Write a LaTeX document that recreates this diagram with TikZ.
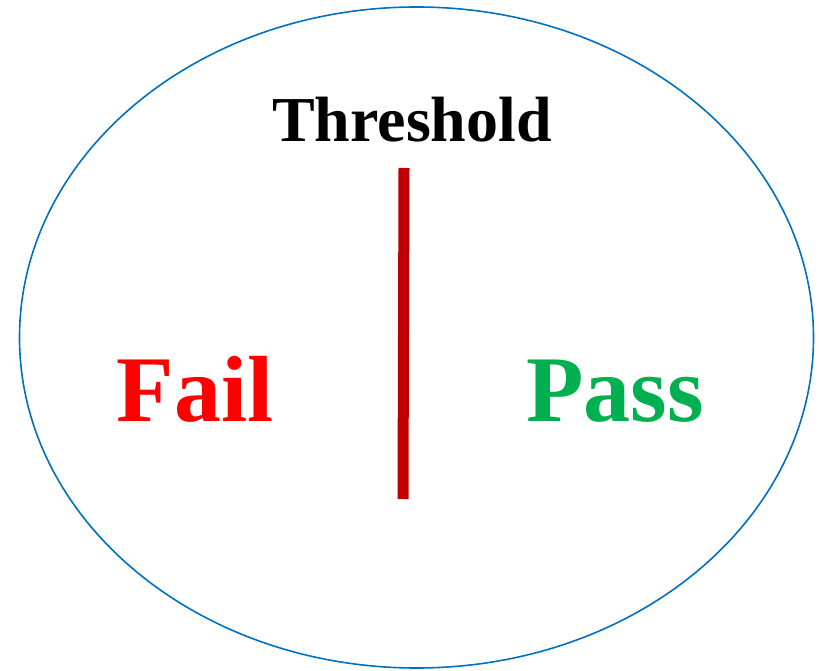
\documentclass[tikz,border=0pt]{standalone}
\usepackage{fontspec}
\setmainfont{Liberation Serif}
\usetikzlibrary{positioning}
\definecolor{ringblue}{HTML}{0070C0}
\definecolor{threshred}{HTML}{C00000}
\definecolor{failred}{HTML}{FF0000}
\definecolor{passgreen}{HTML}{00B050}

\begin{document}
\begin{tikzpicture}[x=1pt,y=1pt,
    verdict/.style={anchor=base,inner sep=0pt,font=\bfseries\fontsize{94}{94}\selectfont}]
  \useasboundingbox (0,0) rectangle (819,670);
  \draw[ringblue,line width=1.6pt] (416.5,332.5) ellipse [x radius=397,y radius=330.5];
  \node[anchor=base,inner sep=0pt,font=\bfseries\fontsize{64}{64}\selectfont] (threshold) at (412,528) {Threshold};
  \coordinate (top) at (404,502);
  \coordinate (bottom) at (403,171);
  \draw[threshred,line width=11pt] (top) -- (bottom);
  \node[verdict,text=failred] (fail) at (195,248) {Fail};
  \node[verdict,text=passgreen] (pass) at (615,248) {Pass};
\end{tikzpicture}
\end{document}
